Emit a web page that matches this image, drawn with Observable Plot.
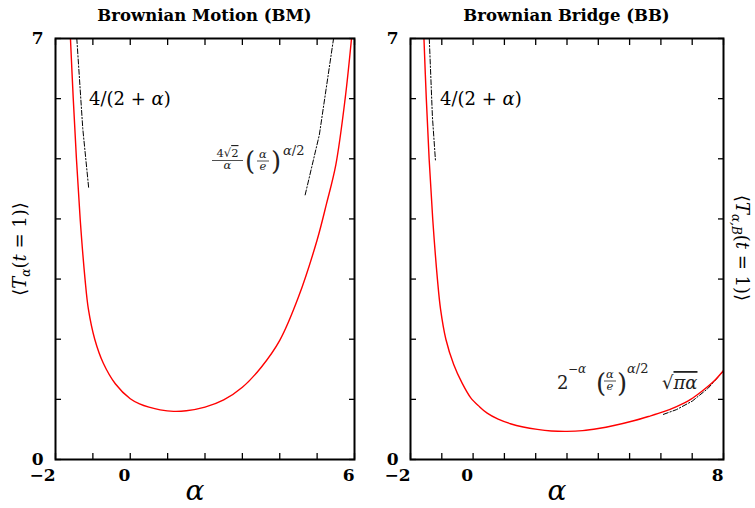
<!DOCTYPE html>
<html><head><meta charset="utf-8">
<script src="https://cdn.jsdelivr.net/npm/d3@7"></script>
<script src="https://cdn.jsdelivr.net/npm/@observablehq/plot@0.6"></script>
<style>
html,body{margin:0;padding:0;background:#fff;}
#chart{position:relative;width:755px;height:508px;overflow:hidden;background:#fff;}
#chart > svg{position:absolute;top:0;}
</style></head><body><div id="chart"></div>
<script>
// ---------- data ----------
const bmAlpha = [-1.60,-1.525,-1.44,-1.34,-1.21,-1.12,-0.95,-0.72,-0.40,0.0,0.25,0.5,0.8,1.16,1.5,2.0,2.5,3.0,3.5,4.0,4.5,5.0,5.25,5.5,5.75,5.92];
const bmT     = [7.0,6.0,5.0,4.0,3.0,2.5,2.0,1.6,1.26,1.01,0.925,0.87,0.825,0.80,0.81,0.87,0.99,1.2,1.53,1.98,2.7,3.65,4.25,4.9,6.0,7.0];
const bbAlpha = [-1.57,-1.495,-1.405,-1.29,-1.14,-1.04,-0.87,-0.62,-0.35,-0.08,0.2,0.45,0.8,1.19,1.6,2.05,2.5,3.0,3.5,4.0,4.5,5.13,5.6,6.09,6.5,6.95,7.3,7.69,8.0];
const bbT     = [7.0,6.0,5.0,4.0,3.0,2.5,2.0,1.58,1.27,1.03,0.88,0.77,0.67,0.595,0.54,0.50,0.475,0.468,0.48,0.515,0.565,0.645,0.715,0.795,0.88,1.0,1.13,1.30,1.48];
// asymptotes (dash-dot)
const bmSmallAlpha = [-1.43,-1.27,-1.11];
const bmSmallT     = [7.0,5.5,4.5];
const bmLargeAlpha = [4.68,5.06,5.44];
const bmLargeT     = [4.4,5.4,7.0];
const bbSmallAlpha = [-1.40,-1.30,-1.20];
const bbSmallT     = [7.0,5.7,4.95];
const bbLargeAlpha = [6.08,6.5,7.0,7.5,8.0];
const bbLargeT     = [0.75,0.83,0.97,1.18,1.47];
// ticks
const xTicksBM = [-2,-1,0,1,2,3,4,5,6];
const xTicksBB = [-2,-1,0,1,2,3,4,5,6,7,8];
const yTicks   = [0,1,2,3,4,5,6,7];
const xLabelsBM = [-2,0,6];
const xLabelsBB = [-2,0,8];
const yLabels   = [0,7];
const titles = ["Brownian Motion (BM)","Brownian Bridge (BB)"];

const zip = (a,b) => a.map((v,i)=>({a:v,t:b[i]}));
const fmt = d => d < 0 ? "\u2212" + (-d) : String(d);
const dashDot = "5,2,1.3,2";

function panel({xDomain, xTicks, xLabels, curve, small, large, width, ml, mr}) {
  return Plot.plot({
    width, height: 508,
    marginLeft: ml, marginRight: mr, marginTop: 38, marginBottom: 49,
    x: {domain: xDomain}, y: {domain: [0, 7]},
    style: {background: "transparent", fontFamily: "DejaVu Serif", fontSize: "17px", fontWeight: "bold", color: "black", overflow: "visible"},
    marks: [
      Plot.axisX({anchor: "bottom", ticks: xTicks, tickSize: 6, dy: -6, strokeWidth: 1.3, tickFormat: () => "", label: null}),
      Plot.axisX({anchor: "top", ticks: xTicks, tickSize: 6, dy: 6, strokeWidth: 1.3, tickFormat: () => "", label: null}),
      Plot.axisY({anchor: "left", ticks: yTicks, tickSize: 6, dx: 6, strokeWidth: 1.3, tickFormat: () => "", label: null}),
      Plot.axisY({anchor: "right", ticks: yTicks, tickSize: 6, dx: -6, strokeWidth: 1.3, tickFormat: () => "", label: null}),
      Plot.axisX({anchor: "bottom", ticks: xLabels, tickSize: 0, tickPadding: 9, textAnchor: "end", tickFormat: fmt, label: null}),
      Plot.axisY({anchor: "left", ticks: yLabels, tickSize: 0, tickPadding: 12, tickFormat: fmt, label: null}),
      Plot.line(small, {x: "a", y: "t", stroke: "black", strokeWidth: 1, strokeDasharray: dashDot, clip: true}),
      Plot.line(large, {x: "a", y: "t", stroke: "black", strokeWidth: 1, strokeDasharray: dashDot, clip: true}),
      Plot.line(curve, {x: "a", y: "t", stroke: "#ff0000", strokeWidth: 1.4, curve: "catmull-rom", clip: true}),
      Plot.frame({stroke: "black", strokeWidth: 2})
    ]
  });
}

const chart = document.getElementById("chart");
const left = panel({xDomain: [-2, 6], xTicks: xTicksBM, xLabels: xLabelsBM,
  curve: zip(bmAlpha, bmT), small: zip(bmSmallAlpha, bmSmallT), large: zip(bmLargeAlpha, bmLargeT),
  width: 370, ml: 55, mr: 16});
left.style.left = "0px";
chart.appendChild(left);
const right = panel({xDomain: [-2, 8], xTicks: xTicksBB, xLabels: xLabelsBB,
  curve: zip(bbAlpha, bbT), small: zip(bbSmallAlpha, bbSmallT), large: zip(bbLargeAlpha, bbLargeT),
  width: 375, ml: 30, mr: 32});
right.style.left = "380px";
chart.appendChild(right);

// ---------- text overlay ----------
const ov = d3.create("svg").attr("width", 755).attr("height", 508)
  .style("left", "0px").style("pointer-events", "none")
  .attr("font-family", "DejaVu Serif").attr("fill", "black");
chart.appendChild(ov.node());

function t(x, y, parts, size, extra = {}) {
  const el = ov.append("text").attr("x", x).attr("y", y).attr("font-size", size);
  for (const [k, v] of Object.entries(extra)) el.attr(k, v);
  for (const p of parts) {
    const s = typeof p === "string" ? {s: p} : p;
    const ts = el.append("tspan").text(s.s);
    if (s.i) ts.attr("font-style", "italic");
    if (s.fs) ts.attr("font-size", s.fs);
    if (s.dy) ts.attr("dy", s.dy);
    if (s.dx) ts.attr("dx", s.dx);
    if (s.td) ts.style("text-decoration", s.td);
  }
  return el;
}
function bar(x1, x2, y, color = "black") {
  ov.append("line").attr("x1", x1).attr("x2", x2).attr("y1", y).attr("y2", y)
    .attr("stroke", color).attr("stroke-width", 0.8);
}

// titles
t(204.5, 21, [titles[0]], 16.5, {"text-anchor": "middle", "font-weight": "bold"});
t(566.5, 21, [titles[1]], 16.5, {"text-anchor": "middle", "font-weight": "bold"});

// x labels
t(195, 500, [{s: "α", i: true}], 28, {"text-anchor": "middle"});
t(557, 500, [{s: "α", i: true}], 28, {"text-anchor": "middle"});

// y labels
t(0, 0, ["⟨", {s: "T", i: true}, {s: "α", i: true, fs: 12, dy: 4}, {s: "(", dy: -4}, {s: "t", i: true}, " = 1)⟩"], 18,
  {"text-anchor": "middle", transform: "translate(26,249) rotate(-90)"});
t(0, 0, ["⟨", {s: "T", i: true}, {s: "α,B", i: true, fs: 12, dy: 4}, {s: "(", dy: -4}, {s: "t", i: true}, " = 1)⟩"], 18,
  {"text-anchor": "middle", transform: "translate(736,248) rotate(90)"});

// 4/(2+α) labels
t(89, 105, ["4/(2 + ", {s: "α", i: true}, ")"], 18);
t(440, 105, ["4/(2 + ", {s: "α", i: true}, ")"], 18);

// (4√2/α)(α/e)^{α/2}
const g1 = "#222";
t(227.5, 157, ["4√", {s: "2", td: "overline"}], 11.5, {"text-anchor": "middle", fill: g1});
bar(212, 243, 160.5, g1);
t(227.5, 169, [{s: "α", i: true}], 11.5, {"text-anchor": "middle", fill: g1});
t(245, 170, ["("], 26, {fill: g1});
t(263, 158, [{s: "α", i: true}], 11.5, {"text-anchor": "middle", fill: g1});
bar(257, 269, 161, g1);
t(263, 170, [{s: "e", i: true}], 11.5, {"text-anchor": "middle", fill: g1});
t(271, 170, [")"], 26, {fill: g1});
t(283, 155, [{s: "α", i: true}, "/2"], 13, {fill: g1});

// 2^{-α}(α/e)^{α/2}√(πα)
t(557, 389, ["2"], 18, {fill: g1});
t(568, 373, ["−", {s: "α", i: true}], 12, {fill: g1});
t(596, 392, ["("], 26, {fill: g1});
t(610, 378, [{s: "α", i: true}], 11.5, {"text-anchor": "middle", fill: g1});
bar(604, 616, 381, g1);
t(610, 390, [{s: "e", i: true}], 11.5, {"text-anchor": "middle", fill: g1});
t(617, 392, [")"], 26, {fill: g1});
t(627, 373, [{s: "α", i: true}, "/2"], 13, {fill: g1});
t(662, 389, ["√", {s: "πα", i: true, td: "overline"}], 18, {fill: g1});
</script></body></html>
